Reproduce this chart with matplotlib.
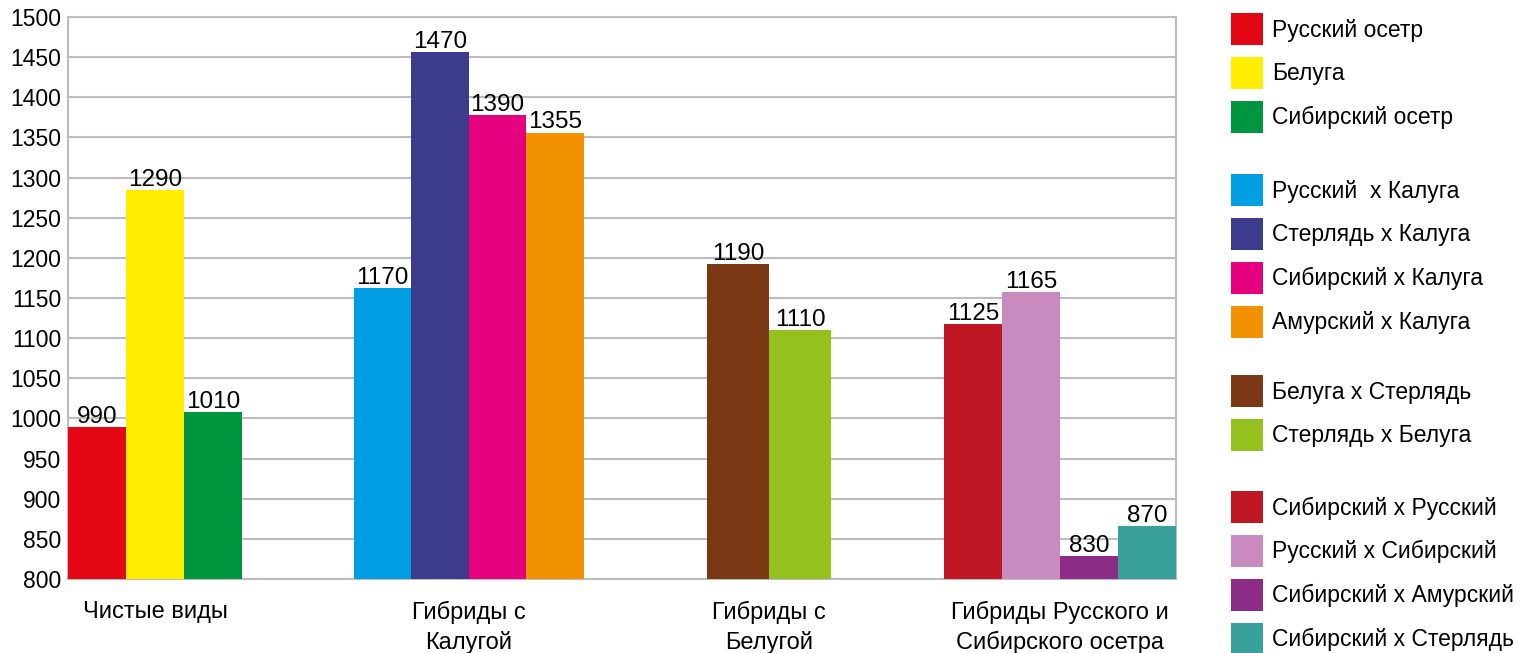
import matplotlib.pyplot as plt
import numpy as np

plt.rcParams['font.family'] = ['Liberation Sans', 'DejaVu Sans']

groups = ['Чистые виды', 'Гибриды с\nКалугой', 'Гибриды с\nБелугой',
          'Гибриды Русского и\nСибирского осетра']
names = [
    ['Русский осетр', 'Белуга', 'Сибирский осетр'],
    ['Русский  х Калуга', 'Стерлядь х Калуга', 'Сибирский х Калуга', 'Амурский х Калуга'],
    ['Белуга х Стерлядь', 'Стерлядь х Белуга'],
    ['Сибирский х Русский', 'Русский х Сибирский', 'Сибирский х Амурский', 'Сибирский х Стерлядь'],
]
# bar heights as drawn, and the numbers written over them
heights = [[989, 1284, 1008], [1162, 1456, 1378, 1356], [1192, 1110], [1118, 1157, 829, 866]]
labels = [[990, 1290, 1010], [1170, 1470, 1390, 1355], [1190, 1110], [1125, 1165, 830, 870]]
colors = [
    ['#e30613', '#ffed00', '#009640'],
    ['#009fe3', '#3c3b8e', '#e5007e', '#f39200'],
    ['#7b3815', '#95c11f'],
    ['#be1622', '#c98bbf', '#8d2c86', '#3aa09c'],
]

group_left = [0, 4.93, 11.02, 15.1]
group_w = [1.0, 0.99, 1.07, 1.0]
grid_col = '#bdbdbd'

fig = plt.figure(figsize=(15.21, 6.53), dpi=100)
ax = fig.add_axes([68 / 1521, 1 - 579 / 653, 1108 / 1521, 562 / 653])

legends_handles = []
for g in range(len(groups)):
    hs = []
    for i, (h, lab, c, nm) in enumerate(zip(heights[g], labels[g], colors[g], names[g])):
        x = group_left[g] + (i + 0.5) * group_w[g]
        b = ax.bar(x, h - 800, bottom=800, width=group_w[g], color=c, label=nm, zorder=3)
        hs.append(b)
        ax.annotate(str(lab), (x, h), xytext=(0, 3), textcoords='offset points',
                    ha='center', va='baseline', fontsize=17.5, zorder=4)
    legends_handles.append(hs)

ax.set_xlim(0, 19.1)
ax.set_ylim(800, 1500)
ax.set_yticks(np.arange(800, 1501, 50))
ax.yaxis.grid(True, color=grid_col, linewidth=1.5, zorder=0)
ax.set_axisbelow(True)
centers = [group_left[g] + len(heights[g]) * group_w[g] / 2 for g in range(len(groups))]
ax.set_xticks(centers)
ax.set_xticklabels(groups, fontsize=17, linespacing=1.35)
ax.tick_params(axis='x', length=0, pad=16)
ax.tick_params(axis='y', length=0, pad=5, labelsize=16.5)
for s in ax.spines.values():
    s.set_color(grid_col)
    s.set_linewidth(1.5)

# legend: one block per group, stacked on the right
tops = [13, 174, 375, 491]
for g, hs in enumerate(legends_handles):
    leg = fig.legend(handles=hs, loc='upper left',
                     bbox_to_anchor=(1231 / 1521, 1 - tops[g] / 653),
                     frameon=False, fontsize=16.5, borderpad=0, borderaxespad=0,
                     handlelength=1.4, handleheight=1.8, handletextpad=0.4,
                     labelspacing=0.5)

fig.savefig('out.png', dpi=100)
